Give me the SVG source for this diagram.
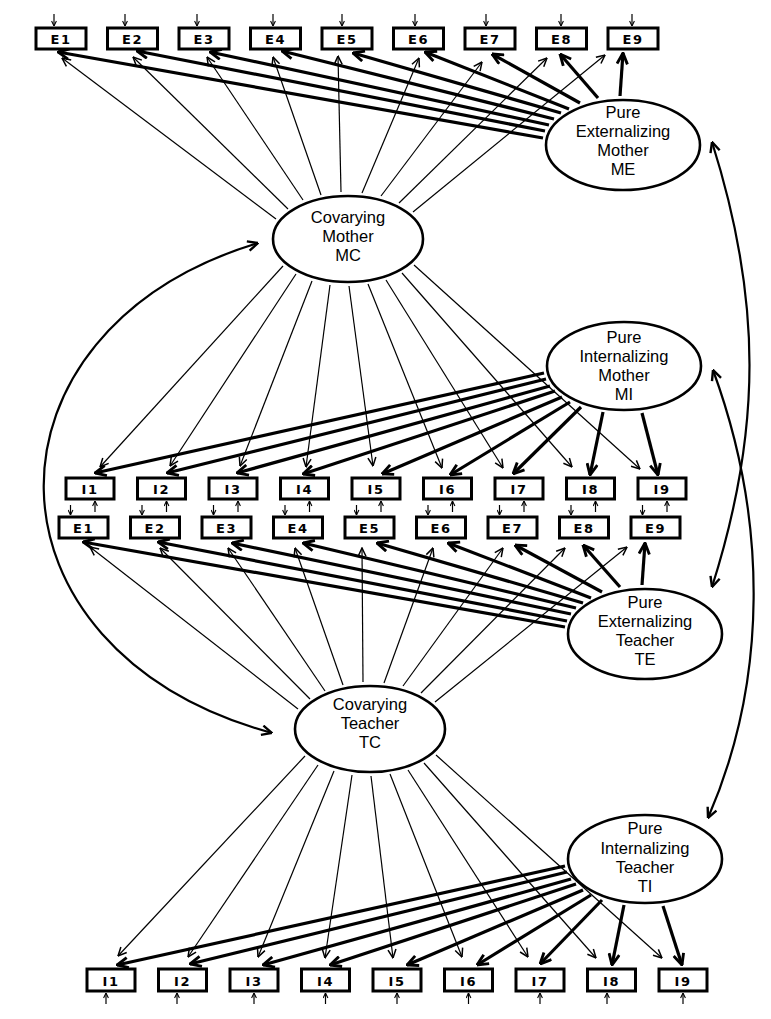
<svg xmlns="http://www.w3.org/2000/svg" width="771" height="1019" viewBox="0 0 771 1019">
<style>
.box{fill:#fff;stroke:#000;stroke-width:3}
.ell{fill:#fff;stroke:#000;stroke-width:2.6}
.lbl{font-family:"DejaVu Sans",sans-serif;font-size:13px;font-weight:bold;text-anchor:middle;letter-spacing:1.5px;fill:#000}
.etx{font-family:"Liberation Sans",Arial,sans-serif;font-size:16.5px;text-anchor:middle;fill:#000}
.thin{stroke:#000;stroke-width:1.2;fill:none;marker-end:url(#hThin)}
.thick{stroke:#000;stroke-width:3.2;fill:none;marker-end:url(#hThick)}
.err{stroke:#000;stroke-width:1.2;fill:none;marker-end:url(#hTiny)}
.cov{stroke:#000;stroke-width:2.2;fill:none;marker-start:url(#hCov);marker-end:url(#hCov)}
</style>
<defs>
<marker id="hThin" viewBox="0 0 10 10" refX="9.5" refY="5" markerWidth="10" markerHeight="10" orient="auto" markerUnits="userSpaceOnUse"><path d="M1,1 L9.5,5 L1,9" fill="none" stroke="#000" stroke-width="1.5"/></marker>
<marker id="hThick" viewBox="0 0 10 10" refX="9.5" refY="5" markerWidth="13" markerHeight="13" orient="auto" markerUnits="userSpaceOnUse"><path d="M1,1 L9.5,5 L1,9" fill="none" stroke="#000" stroke-width="2.2"/></marker>
<marker id="hTiny" viewBox="0 0 10 10" refX="9.5" refY="5" markerWidth="6" markerHeight="6" orient="auto" markerUnits="userSpaceOnUse"><path d="M1,1 L9.5,5 L1,9" fill="none" stroke="#000" stroke-width="1.8"/></marker>
<marker id="hCov" viewBox="0 0 10 10" refX="9.5" refY="5" markerWidth="12" markerHeight="12" orient="auto-start-reverse" markerUnits="userSpaceOnUse"><path d="M1,1 L9.5,5 L1,9" fill="none" stroke="#000" stroke-width="2"/></marker>
</defs>
<rect x="0" y="0" width="771" height="1019" fill="#fff"/>
<g id="connectors">
<line class="thin" x1="276" y1="219" x2="62" y2="58"/>
<line class="thin" x1="288" y1="209" x2="133" y2="57"/>
<line class="thin" x1="303" y1="200" x2="207" y2="57"/>
<line class="thin" x1="321" y1="195" x2="273" y2="57"/>
<line class="thin" x1="341" y1="192" x2="338" y2="56"/>
<line class="thin" x1="362" y1="193" x2="419" y2="58"/>
<line class="thin" x1="381" y1="196" x2="482" y2="62"/>
<line class="thin" x1="399" y1="203" x2="547" y2="58"/>
<line class="thin" x1="413" y1="212" x2="605" y2="55"/>
<line class="thick" x1="543" y1="138" x2="58" y2="52"/>
<line class="thick" x1="545" y1="131" x2="137" y2="51"/>
<line class="thick" x1="549" y1="125" x2="210" y2="52"/>
<line class="thick" x1="554" y1="119" x2="282" y2="51"/>
<line class="thick" x1="561" y1="113" x2="353" y2="53"/>
<line class="thick" x1="569" y1="109" x2="425" y2="52"/>
<line class="thick" x1="580" y1="103" x2="492" y2="54"/>
<line class="thick" x1="598" y1="98" x2="560" y2="54"/>
<line class="thick" x1="620" y1="96" x2="623" y2="53"/>
<line class="thin" x1="283" y1="266" x2="100" y2="467"/>
<line class="thin" x1="296" y1="274" x2="170" y2="466"/>
<line class="thin" x1="312" y1="281" x2="240" y2="466"/>
<line class="thin" x1="330" y1="285" x2="306" y2="467"/>
<line class="thin" x1="349" y1="286" x2="373" y2="466"/>
<line class="thin" x1="368" y1="284" x2="442" y2="468"/>
<line class="thin" x1="386" y1="280" x2="503" y2="468"/>
<line class="thin" x1="402" y1="273" x2="572" y2="467"/>
<line class="thin" x1="414" y1="265" x2="640" y2="469"/>
<line class="thick" x1="544" y1="373" x2="95" y2="473"/>
<line class="thick" x1="546" y1="379" x2="167" y2="473"/>
<line class="thick" x1="550" y1="386" x2="237" y2="473"/>
<line class="thick" x1="555" y1="391" x2="303" y2="474"/>
<line class="thick" x1="562" y1="397" x2="382" y2="474"/>
<line class="thick" x1="570" y1="402" x2="450" y2="475"/>
<line class="thick" x1="581" y1="407" x2="513" y2="474"/>
<line class="thick" x1="603" y1="412" x2="590" y2="475"/>
<line class="thick" x1="642" y1="413" x2="658" y2="475"/>
<line class="thin" x1="298" y1="709" x2="90" y2="547"/>
<line class="thin" x1="310" y1="699" x2="160" y2="548"/>
<line class="thin" x1="325" y1="691" x2="228" y2="548"/>
<line class="thin" x1="343" y1="685" x2="295" y2="548"/>
<line class="thin" x1="363" y1="682" x2="362" y2="548"/>
<line class="thin" x1="384" y1="683" x2="433" y2="548"/>
<line class="thin" x1="403" y1="686" x2="503" y2="548"/>
<line class="thin" x1="421" y1="693" x2="565" y2="548"/>
<line class="thin" x1="435" y1="702" x2="627" y2="547"/>
<line class="thick" x1="565" y1="627" x2="83" y2="542"/>
<line class="thick" x1="567" y1="621" x2="158" y2="542"/>
<line class="thick" x1="571" y1="614" x2="232" y2="543"/>
<line class="thick" x1="576" y1="608" x2="303" y2="543"/>
<line class="thick" x1="583" y1="603" x2="377" y2="543"/>
<line class="thick" x1="591" y1="598" x2="448" y2="543"/>
<line class="thick" x1="602" y1="592" x2="515" y2="545"/>
<line class="thick" x1="620" y1="587" x2="583" y2="545"/>
<line class="thick" x1="642" y1="585" x2="645" y2="543"/>
<line class="thin" x1="305" y1="756" x2="118" y2="956"/>
<line class="thin" x1="318" y1="765" x2="188" y2="957"/>
<line class="thin" x1="334" y1="771" x2="258" y2="957"/>
<line class="thin" x1="352" y1="775" x2="325" y2="958"/>
<line class="thin" x1="371" y1="776" x2="393" y2="958"/>
<line class="thin" x1="390" y1="774" x2="462" y2="957"/>
<line class="thin" x1="408" y1="770" x2="528" y2="957"/>
<line class="thin" x1="424" y1="763" x2="596" y2="958"/>
<line class="thin" x1="436" y1="755" x2="662" y2="958"/>
<line class="thick" x1="565" y1="866" x2="117" y2="965"/>
<line class="thick" x1="567" y1="872" x2="190" y2="964"/>
<line class="thick" x1="571" y1="879" x2="263" y2="965"/>
<line class="thick" x1="576" y1="884" x2="330" y2="965"/>
<line class="thick" x1="583" y1="890" x2="407" y2="965"/>
<line class="thick" x1="591" y1="895" x2="477" y2="965"/>
<line class="thick" x1="602" y1="900" x2="540" y2="964"/>
<line class="thick" x1="624" y1="905" x2="612" y2="965"/>
<line class="thick" x1="663" y1="906" x2="682" y2="965"/>
<path class="cov" d="M258,243 C-30,330 -30,650 272,733"/>
<path class="cov" d="M712,142 C762,300 762,430 712,587"/>
<path class="cov" d="M713,370 C768,520 768,680 708,818"/>
<line class="err" x1="54" y1="14" x2="54" y2="26"/>
<line class="err" x1="125" y1="14" x2="125" y2="26"/>
<line class="err" x1="197" y1="14" x2="197" y2="26"/>
<line class="err" x1="273" y1="14" x2="273" y2="26"/>
<line class="err" x1="342" y1="14" x2="342" y2="26"/>
<line class="err" x1="415" y1="14" x2="415" y2="26"/>
<line class="err" x1="486" y1="14" x2="486" y2="26"/>
<line class="err" x1="561" y1="14" x2="561" y2="26"/>
<line class="err" x1="632" y1="14" x2="632" y2="26"/>
<line class="err" x1="70.5" y1="505" x2="70.5" y2="515"/>
<line class="err" x1="142" y1="505" x2="142" y2="515"/>
<line class="err" x1="213.5" y1="505" x2="213.5" y2="515"/>
<line class="err" x1="285" y1="505" x2="285" y2="515"/>
<line class="err" x1="356.5" y1="505" x2="356.5" y2="515"/>
<line class="err" x1="428" y1="505" x2="428" y2="515"/>
<line class="err" x1="499.5" y1="505" x2="499.5" y2="515"/>
<line class="err" x1="571" y1="505" x2="571" y2="515"/>
<line class="err" x1="642.5" y1="505" x2="642.5" y2="515"/>
<line class="err" x1="95" y1="512" x2="95" y2="501"/>
<line class="err" x1="166.5" y1="512" x2="166.5" y2="501"/>
<line class="err" x1="238" y1="512" x2="238" y2="501"/>
<line class="err" x1="309.5" y1="512" x2="309.5" y2="501"/>
<line class="err" x1="381" y1="512" x2="381" y2="501"/>
<line class="err" x1="452.5" y1="512" x2="452.5" y2="501"/>
<line class="err" x1="524" y1="512" x2="524" y2="501"/>
<line class="err" x1="595.5" y1="512" x2="595.5" y2="501"/>
<line class="err" x1="667" y1="512" x2="667" y2="501"/>
<line class="err" x1="106" y1="1004" x2="106" y2="993"/>
<line class="err" x1="177" y1="1004" x2="177" y2="993"/>
<line class="err" x1="254" y1="1004" x2="254" y2="993"/>
<line class="err" x1="325.5" y1="1004" x2="325.5" y2="993"/>
<line class="err" x1="397" y1="1004" x2="397" y2="993"/>
<line class="err" x1="468.5" y1="1004" x2="468.5" y2="993"/>
<line class="err" x1="540" y1="1004" x2="540" y2="993"/>
<line class="err" x1="607" y1="1004" x2="607" y2="993"/>
<line class="err" x1="683" y1="1004" x2="683" y2="993"/>
</g>
<g id="mE1"><rect class="box" x="36" y="28" width="50" height="21"/><text class="lbl" x="61" y="44">E1</text></g>
<g id="mE2"><rect class="box" x="107.5" y="28" width="50" height="21"/><text class="lbl" x="132.5" y="44">E2</text></g>
<g id="mE3"><rect class="box" x="179" y="28" width="50" height="21"/><text class="lbl" x="204" y="44">E3</text></g>
<g id="mE4"><rect class="box" x="250.5" y="28" width="50" height="21"/><text class="lbl" x="275.5" y="44">E4</text></g>
<g id="mE5"><rect class="box" x="322" y="28" width="50" height="21"/><text class="lbl" x="347" y="44">E5</text></g>
<g id="mE6"><rect class="box" x="393.5" y="28" width="50" height="21"/><text class="lbl" x="418.5" y="44">E6</text></g>
<g id="mE7"><rect class="box" x="465" y="28" width="50" height="21"/><text class="lbl" x="490" y="44">E7</text></g>
<g id="mE8"><rect class="box" x="536.5" y="28" width="50" height="21"/><text class="lbl" x="561.5" y="44">E8</text></g>
<g id="mE9"><rect class="box" x="608" y="28" width="50" height="21"/><text class="lbl" x="633" y="44">E9</text></g>
<g id="mI1"><rect class="box" x="66" y="478" width="48" height="21"/><text class="lbl" x="90" y="494">I1</text></g>
<g id="mI2"><rect class="box" x="137.5" y="478" width="48" height="21"/><text class="lbl" x="161.5" y="494">I2</text></g>
<g id="mI3"><rect class="box" x="209" y="478" width="48" height="21"/><text class="lbl" x="233" y="494">I3</text></g>
<g id="mI4"><rect class="box" x="280.5" y="478" width="48" height="21"/><text class="lbl" x="304.5" y="494">I4</text></g>
<g id="mI5"><rect class="box" x="352" y="478" width="48" height="21"/><text class="lbl" x="376" y="494">I5</text></g>
<g id="mI6"><rect class="box" x="423.5" y="478" width="48" height="21"/><text class="lbl" x="447.5" y="494">I6</text></g>
<g id="mI7"><rect class="box" x="495" y="478" width="48" height="21"/><text class="lbl" x="519" y="494">I7</text></g>
<g id="mI8"><rect class="box" x="566.5" y="478" width="48" height="21"/><text class="lbl" x="590.5" y="494">I8</text></g>
<g id="mI9"><rect class="box" x="638" y="478" width="48" height="21"/><text class="lbl" x="662" y="494">I9</text></g>
<g id="tE1"><rect class="box" x="59" y="517" width="49" height="21"/><text class="lbl" x="83.5" y="533">E1</text></g>
<g id="tE2"><rect class="box" x="130.5" y="517" width="49" height="21"/><text class="lbl" x="155" y="533">E2</text></g>
<g id="tE3"><rect class="box" x="202" y="517" width="49" height="21"/><text class="lbl" x="226.5" y="533">E3</text></g>
<g id="tE4"><rect class="box" x="273.5" y="517" width="49" height="21"/><text class="lbl" x="298" y="533">E4</text></g>
<g id="tE5"><rect class="box" x="345" y="517" width="49" height="21"/><text class="lbl" x="369.5" y="533">E5</text></g>
<g id="tE6"><rect class="box" x="416.5" y="517" width="49" height="21"/><text class="lbl" x="441" y="533">E6</text></g>
<g id="tE7"><rect class="box" x="488" y="517" width="49" height="21"/><text class="lbl" x="512.5" y="533">E7</text></g>
<g id="tE8"><rect class="box" x="559.5" y="517" width="49" height="21"/><text class="lbl" x="584" y="533">E8</text></g>
<g id="tE9"><rect class="box" x="631" y="517" width="49" height="21"/><text class="lbl" x="655.5" y="533">E9</text></g>
<g id="tI1"><rect class="box" x="87" y="969" width="48" height="22"/><text class="lbl" x="111" y="986">I1</text></g>
<g id="tI2"><rect class="box" x="158.5" y="969" width="48" height="22"/><text class="lbl" x="182.5" y="986">I2</text></g>
<g id="tI3"><rect class="box" x="230" y="969" width="48" height="22"/><text class="lbl" x="254" y="986">I3</text></g>
<g id="tI4"><rect class="box" x="301.5" y="969" width="48" height="22"/><text class="lbl" x="325.5" y="986">I4</text></g>
<g id="tI5"><rect class="box" x="373" y="969" width="48" height="22"/><text class="lbl" x="397" y="986">I5</text></g>
<g id="tI6"><rect class="box" x="444.5" y="969" width="48" height="22"/><text class="lbl" x="468.5" y="986">I6</text></g>
<g id="tI7"><rect class="box" x="516" y="969" width="48" height="22"/><text class="lbl" x="540" y="986">I7</text></g>
<g id="tI8"><rect class="box" x="587.5" y="969" width="48" height="22"/><text class="lbl" x="611.5" y="986">I8</text></g>
<g id="tI9"><rect class="box" x="659" y="969" width="48" height="22"/><text class="lbl" x="683" y="986">I9</text></g>
<g id="ME"><ellipse class="ell" cx="623" cy="145" rx="77" ry="45"/><text class="etx" x="623" y="118">Pure</text><text class="etx" x="623" y="137">Externalizing</text><text class="etx" x="623" y="156">Mother</text><text class="etx" x="623" y="175">ME</text></g>
<g id="MC"><ellipse class="ell" cx="348" cy="239" rx="75" ry="43"/><text class="etx" x="348" y="223">Covarying</text><text class="etx" x="348" y="242">Mother</text><text class="etx" x="348" y="261">MC</text></g>
<g id="MI"><ellipse class="ell" cx="624" cy="366" rx="77" ry="44"/><text class="etx" x="624" y="343">Pure</text><text class="etx" x="624" y="362">Internalizing</text><text class="etx" x="624" y="381">Mother</text><text class="etx" x="624" y="400">MI</text></g>
<g id="TE"><ellipse class="ell" cx="645" cy="634" rx="77" ry="45"/><text class="etx" x="645" y="608">Pure</text><text class="etx" x="645" y="627">Externalizing</text><text class="etx" x="645" y="646">Teacher</text><text class="etx" x="645" y="665">TE</text></g>
<g id="TC"><ellipse class="ell" cx="370" cy="729" rx="75" ry="43"/><text class="etx" x="370" y="710">Covarying</text><text class="etx" x="370" y="729">Teacher</text><text class="etx" x="370" y="748">TC</text></g>
<g id="TI"><ellipse class="ell" cx="645" cy="859" rx="77" ry="44"/><text class="etx" x="645" y="834">Pure</text><text class="etx" x="645" y="854">Internalizing</text><text class="etx" x="645" y="873">Teacher</text><text class="etx" x="645" y="892">TI</text></g>
</svg>
